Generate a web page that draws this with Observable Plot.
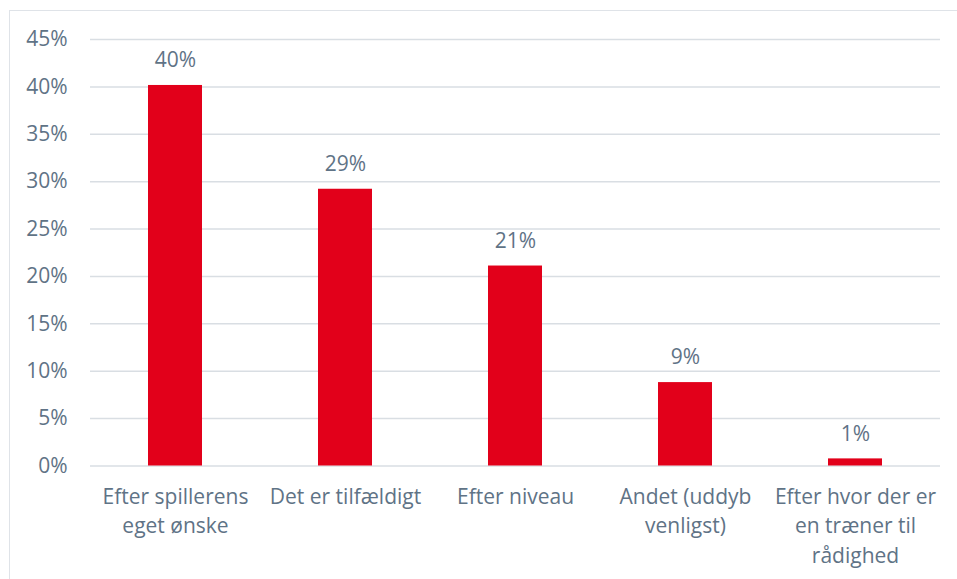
<!DOCTYPE html>
<html>
<head>
<meta charset="utf-8">
<script src="https://cdn.jsdelivr.net/npm/d3@7"></script>
<script src="https://cdn.jsdelivr.net/npm/@observablehq/plot@0.6"></script>
<style>
  html, body { margin: 0; padding: 0; background: #fff; }
  #wrap { position: relative; width: 957px; height: 579px; overflow: hidden; }
  #border { position: absolute; left: 9px; top: 10px; width: 1000px; height: 1000px;
            border-left: 1.5px solid #dfe3e8; border-top: 1.5px solid #dfe3e8; pointer-events: none; }
</style>
</head>
<body>
<div id="wrap"><div id="border"></div></div>
<script>
const categories = [
  "Efter spillerens eget ønske",
  "Det er tilfældigt",
  "Efter niveau",
  "Andet (uddyb venligst)",
  "Efter hvor der er en træner til rådighed"
];
const tickLabels = [
  "Efter spillerens\neget ønske",
  "Det er tilfældigt",
  "Efter niveau",
  "Andet (uddyb\nvenligst)",
  "Efter hvor der er\nen træner til\nrådighed"
];
const values = [40.15, 29.2, 21.1, 8.8, 0.75];
const valueLabels = ["40%", "29%", "21%", "9%", "1%"];
const yTicks = [0, 5, 10, 15, 20, 25, 30, 35, 40, 45];

const data = categories.map((c, i) => ({cat: c, value: values[i], label: valueLabels[i]}));
const labelOf = new Map(categories.map((c, i) => [c, tickLabels[i]]));

const textColor = "#5f7386";
const fs = 21;
const chart = Plot.plot({
  width: 957,
  height: 579,
  marginLeft: 90,
  marginRight: 17,
  marginTop: 39,
  marginBottom: 113.5,
  style: {fontFamily: "'Open Sans', sans-serif", fontSize: fs + "px", color: textColor, background: "transparent"},
  x: {domain: categories, paddingInner: 0.68, paddingOuter: 0.34},
  y: {domain: [0, 45]},
  marks: [
    Plot.gridY(yTicks, {stroke: "#d9dee3", strokeOpacity: 1, strokeWidth: 1.5}),
    Plot.axisY(yTicks, {tickSize: 0, tickPadding: 23, tickFormat: d => d + "%", fontSize: fs, fill: textColor, label: null}),
    Plot.axisX({tickSize: 0, tickPadding: 17, fontSize: fs, fill: textColor, lineHeight: 1.4,
                tickFormat: d => labelOf.get(d), label: null}),
    Plot.barY(data, {x: "cat", y: "value", fill: "#e2001a"}),
    Plot.text(data, {x: "cat", y: "value", text: "label", dy: -25, fontSize: fs, fill: textColor})
  ]
});
document.getElementById("wrap").prepend(chart);
</script>
</body>
</html>
